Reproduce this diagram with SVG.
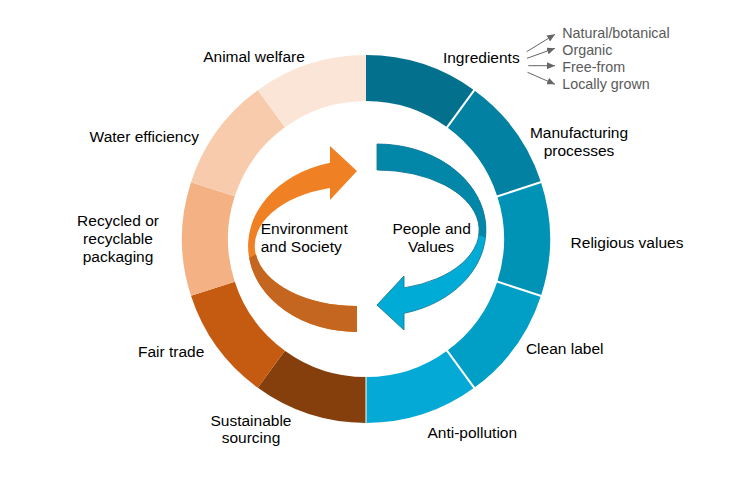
<svg xmlns="http://www.w3.org/2000/svg" width="739" height="481" viewBox="0 0 739 481">
<style>
  text { font-family: "Liberation Sans", Arial, sans-serif; }
  .lbl { font-size: 15.5px; fill: #000; }
  .sub { font-size: 14.3px; fill: #595959; }
  .sep { stroke: #fff; stroke-width: 2; }
  .pt { stroke: #666; stroke-width: 1; fill: none; marker-end: url(#ah); }
</style>
<defs>
  <marker id="ah" markerUnits="userSpaceOnUse" markerWidth="8" markerHeight="7" refX="8" refY="3.5" orient="auto">
    <path d="M0,0 L8,3.5 L0,7 z" fill="#666"/>
  </marker>
  <path id="ribbon" d="M330,162.7 A109 86 0 0 0 357,332 L357,306 A102 60 0 0 1 330,188.1 L330,200 L357,171 L330,146 Z"/>
</defs>
<rect width="739" height="481" fill="#fff"/>

<g id="ring">
  <g id="seg-ingredients"><path d="M366,55 A184 184 0 0 1 474.16,90.14 L447.12,127.36 A138 138 0 0 0 366,101 Z" fill="#03718E"/></g>
  <g id="seg-manufacturing"><path d="M474.16,90.14 A184 184 0 0 1 541,182.14 L497.25,196.36 A138 138 0 0 0 447.12,127.36 Z" fill="#0381A2"/></g>
  <g id="seg-religious"><path d="M541,182.14 A184 184 0 0 1 541,295.86 L497.25,281.64 A138 138 0 0 0 497.25,196.36 Z" fill="#0193B6"/></g>
  <g id="seg-clean"><path d="M541,295.86 A184 184 0 0 1 474.16,387.86 L447.12,350.64 A138 138 0 0 0 497.25,281.64 Z" fill="#019FC6"/></g>
  <g id="seg-antipollution"><path d="M474.16,387.86 A184 184 0 0 1 366,423 L366,377 A138 138 0 0 0 447.12,350.64 Z" fill="#05A9D6"/></g>
  <g id="seg-sustainable"><path d="M366,423 A184 184 0 0 1 257.84,387.86 L284.88,350.64 A138 138 0 0 0 366,377 Z" fill="#843F0C"/></g>
  <g id="seg-fairtrade"><path d="M257.84,387.86 A184 184 0 0 1 191,295.86 L234.75,281.64 A138 138 0 0 0 284.88,350.64 Z" fill="#C55A11"/></g>
  <g id="seg-recycled"><path d="M191,295.86 A184 184 0 0 1 191,182.14 L234.75,196.36 A138 138 0 0 0 234.75,281.64 Z" fill="#F4B183"/></g>
  <g id="seg-water"><path d="M191,182.14 A184 184 0 0 1 257.84,90.14 L284.88,127.36 A138 138 0 0 0 234.75,196.36 Z" fill="#F8CBAD"/></g>
  <g id="seg-animal"><path d="M257.84,90.14 A184 184 0 0 1 366,55 L366,101 A138 138 0 0 0 284.88,127.36 Z" fill="#FBE5D6"/></g>
  <g id="separators">
    <line class="sep" x1="446.5" y1="128.2" x2="474.8" y2="89.3"/>
    <line class="sep" x1="496.3" y1="196.7" x2="542" y2="181.8"/>
    <line class="sep" x1="496.3" y1="281.3" x2="542" y2="296.2"/>
    <line class="sep" x1="446.5" y1="349.8" x2="474.8" y2="388.7"/>
    <line x1="366" y1="376" x2="366" y2="424" stroke="#fff" stroke-width="1"/>
  </g>
</g>

<g id="arrow-env">
  <use href="#ribbon" fill="#F08024"/>
  <path d="M249.1,258 A109 86 0 0 0 357,332 L357,306 A102 60 0 0 1 256,254.3 Z" fill="#C4661F"/>
</g>
<g id="arrow-people" transform="rotate(180 367 238)">
  <use href="#ribbon" fill="#00ACD6"/>
  <path d="M248.4,238.5 A109 86 0 0 0 357,332 L357,306 A102 60 0 0 1 255.4,240.8 Z" fill="#0387A8"/>
  <use href="#ribbon" fill="none" stroke="#167A98" stroke-width="0.9"/>
</g>

<g id="center-labels">
  <text class="lbl" x="260.7" y="234.3">Environment</text>
  <text class="lbl" x="260.7" y="252.3">and Society</text>
  <text class="lbl" x="431.6" y="234.3" text-anchor="middle">People and</text>
  <text class="lbl" x="431" y="252.3" text-anchor="middle">Values</text>
</g>

<g id="labels">
  <text class="lbl" x="254" y="62" text-anchor="middle">Animal welfare</text>
  <text class="lbl" x="481.3" y="63" text-anchor="middle">Ingredients</text>
  <text class="lbl" x="579" y="138.3" text-anchor="middle">Manufacturing</text>
  <text class="lbl" x="579" y="155.8" text-anchor="middle">processes</text>
  <text class="lbl" x="627" y="248.3" text-anchor="middle">Religious values</text>
  <text class="lbl" x="564.7" y="354" text-anchor="middle">Clean label</text>
  <text class="lbl" x="472.3" y="438.3" text-anchor="middle">Anti-pollution</text>
  <text class="lbl" x="251" y="425.7" text-anchor="middle">Sustainable</text>
  <text class="lbl" x="251" y="443.3" text-anchor="middle">sourcing</text>
  <text class="lbl" x="171.2" y="356.7" text-anchor="middle">Fair trade</text>
  <text class="lbl" x="118" y="225.7" text-anchor="middle">Recycled or</text>
  <text class="lbl" x="118" y="243.7" text-anchor="middle">recyclable</text>
  <text class="lbl" x="118" y="261.7" text-anchor="middle">packaging</text>
  <text class="lbl" x="144.3" y="141.7" text-anchor="middle">Water efficiency</text>
</g>

<g id="ingredient-details">
  <text class="sub" x="562.3" y="37.6">Natural/botanical</text>
  <text class="sub" x="562.3" y="54.8">Organic</text>
  <text class="sub" x="562.3" y="72">Free-from</text>
  <text class="sub" x="562.3" y="89.2">Locally grown</text>
</g>

<g id="connectors">
  <line class="pt" x1="526.7" y1="51.7" x2="555" y2="34.3"/>
  <line class="pt" x1="527" y1="58.3" x2="555" y2="48.3"/>
  <line class="pt" x1="528.3" y1="65.7" x2="555" y2="65.7"/>
  <line class="pt" x1="527.5" y1="72.3" x2="555" y2="84.3"/>
</g>
</svg>
